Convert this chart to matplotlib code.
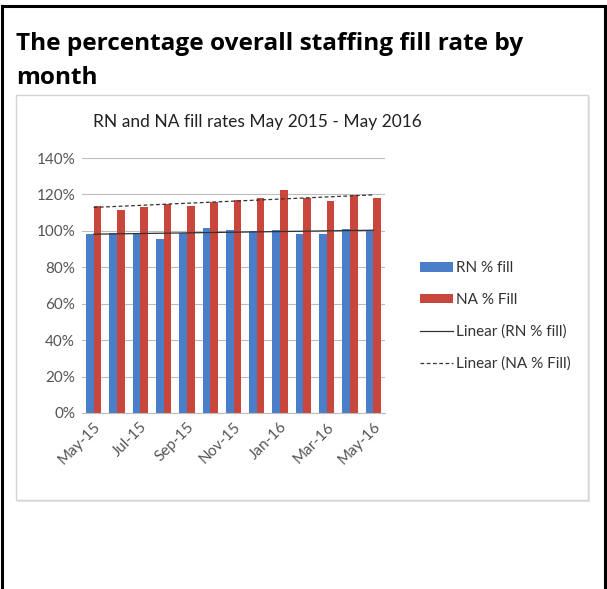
import numpy as np
import matplotlib
matplotlib.use('Agg')
import matplotlib.pyplot as plt
from matplotlib.patches import Rectangle
from matplotlib.lines import Line2D

# Data
months = ['May-15', 'Jun-15', 'Jul-15', 'Aug-15', 'Sep-15', 'Oct-15', 'Nov-15',
          'Dec-15', 'Jan-16', 'Feb-16', 'Mar-16', 'Apr-16', 'May-16']
rn_fill = [98.4, 98.7, 98.7, 95.5, 98.7, 101.4, 100.5, 100.0, 100.2, 98.4, 98.4, 101.0, 100.5]
na_fill = [113.7, 111.7, 113.2, 115.0, 113.7, 116.0, 116.8, 118.0, 122.2, 118.0, 116.2, 119.5, 118.0]
yticks = [0, 20, 40, 60, 80, 100, 120, 140]

W, H = 607, 589
fig = plt.figure(figsize=(W / 100, H / 100), dpi=100)
fig.patch.set_facecolor('white')

def px(x, y):
    # pixel position (from top-left) to figure fraction
    return x / W, 1 - y / H

# outer table border
for xs, ys in [((2, 2), (6, H)), ((605, 605), (6, H)), ((2, 605), (6, 6))]:
    fig.add_artist(Line2D([xs[0] / W, xs[1] / W], [1 - ys[0] / H, 1 - ys[1] / H],
                          color='black', lw=2.2))

# heading of the table cell
fig.text(*px(16, 50), 'The percentage overall staffing fill rate by',
         fontsize=17.6, fontweight='bold', family='Open Sans', va='baseline')
fig.text(*px(16, 84), 'month', fontsize=17.6, fontweight='bold', family='Open Sans', va='baseline')

# chart box with a soft shadow
fig.add_artist(Rectangle(px(18, 502), 572 / W, 405 / H, transform=fig.transFigure,
                         facecolor='#e6e6e6', edgecolor='none', zorder=0))
fig.add_artist(Rectangle(px(16, 500), 572 / W, 405 / H, transform=fig.transFigure,
                         facecolor='white', edgecolor='#d4d4d4', lw=1, zorder=0))

fig.text(*px(257, 122), 'RN and NA fill rates May 2015 - May 2016', fontsize=12.5,
         family='Lato', color='#222222', ha='center', va='center')

ax = fig.add_axes([82 / W, (H - 413) / H, 303 / W, 255 / H])
x = np.arange(len(months))
bw = 0.33
b1 = ax.bar(x - bw / 2, rn_fill, bw, color='#4a7ec9', label='RN % fill', zorder=2)
b2 = ax.bar(x + bw / 2, na_fill, bw, color='#c9463d', label='NA % Fill', zorder=2)

rn_fit = np.polyval(np.polyfit(x, rn_fill, 1), x)
na_fit = np.polyval(np.polyfit(x, na_fill, 1), x)
l1, = ax.plot(x, rn_fit, color='#333333', lw=0.9, label='Linear (RN % fill)', zorder=3)
l2, = ax.plot(x, na_fit, color='#333333', lw=0.9, ls=(0, (3, 2)), label='Linear (NA % Fill)', zorder=3)

ax.set_xlim(-0.5, len(months) - 0.5)
ax.set_ylim(0, 140)
ax.set_yticks(yticks)
ax.set_yticklabels([f'{t}%' for t in yticks], family='Lato', fontsize=11, color='#555555')
ax.yaxis.grid(True, color='#bdbdbd', lw=0.8, zorder=0)
ax.set_xticks(x[::2])
ax.set_xticklabels(months[::2], rotation=45, ha='right', rotation_mode='anchor',
                   family='Lato', fontsize=11, color='#555555')
ax.tick_params(length=0, pad=5)
for s in ['top', 'right', 'left']:
    ax.spines[s].set_visible(False)
ax.spines['bottom'].set_color('#bdbdbd')
ax.set_facecolor('none')

ax.legend([b1, b2, l1, l2], ['RN % fill', 'NA % Fill', 'Linear (RN % fill)', 'Linear (NA % Fill)'],
          loc='center left', bbox_to_anchor=(406 / W, 1 - 316 / H),
          bbox_transform=fig.transFigure, frameon=False,
          prop={'family': 'Lato', 'size': 11}, handlelength=2.2, handleheight=0.6,
          handletextpad=0.2, labelspacing=1.15, labelcolor='#333333')

fig.savefig('out.png', dpi=100, facecolor='white')
